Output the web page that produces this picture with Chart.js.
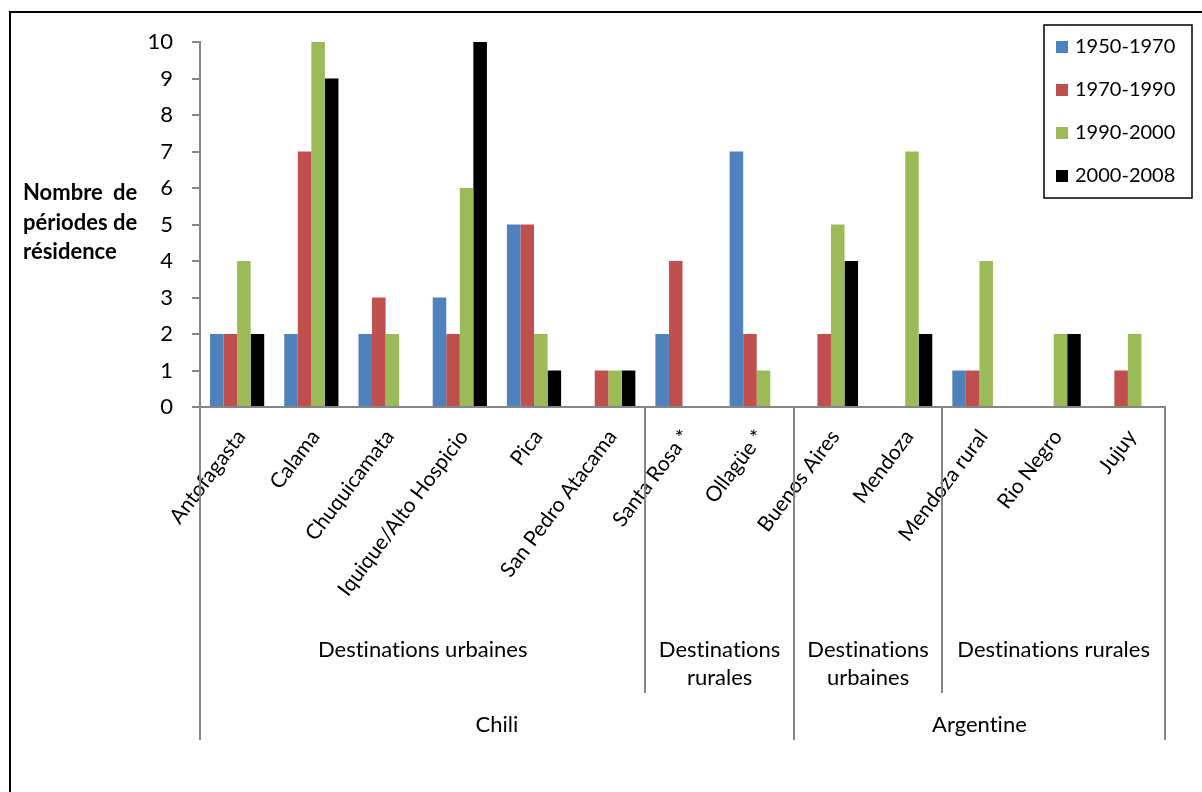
<!DOCTYPE html>
<html>
<head>
<meta charset="utf-8">
<script src="https://cdn.jsdelivr.net/npm/chart.js@4.4.1/dist/chart.umd.min.js"></script>
<style>
  html, body { margin: 0; padding: 0; background: #fff; }
  canvas { display: block; }
</style>
</head>
<body>
<canvas id="chart" width="1202" height="792"></canvas>
<script>
// ─── DONNÉES ───────────────────────────────────────────────────
const categories = ['Antofagasta', 'Calama', 'Chuquicamata', 'Iquique/Alto Hospicio', 'Pica',
    'San Pedro Atacama', 'Santa Rosa *', 'Ollagüe *', 'Buenos Aires', 'Mendoza',
    'Mendoza rural', 'Rio Negro', 'Jujuy'];

const seriesLabels = ['1950-1970', '1970-1990', '1990-2000', '2000-2008'];
const seriesColors = ['#4F81BD', '#C0504D', '#9BBB59', '#000000'];

const p1950 = [2, 2, 2, 3, 5, 0, 2, 7, 0, 0, 1, 0, 0];
const p1970 = [2, 7, 3, 2, 5, 1, 4, 2, 2, 0, 1, 0, 1];
const p1990 = [4, 10, 2, 6, 2, 1, 0, 1, 5, 7, 4, 2, 2];
const p2000 = [2, 9, 0, 10, 1, 1, 0, 0, 4, 2, 0, 2, 0];

const yTicks = [0, 1, 2, 3, 4, 5, 6, 7, 8, 9, 10];

// niveaux de regroupement sous l'axe (index de début / fin exclusif)
const groupLabels = [['Destinations urbaines'], ['Destinations', 'rurales'], ['Destinations', 'urbaines'], ['Destinations rurales']];
const groupStarts = [0, 6, 8, 10];
const groupEnds = [6, 8, 10, 13];

const countryLabels = ['Chili', 'Argentine'];
const countryStarts = [0, 8];
const countryEnds = [8, 13];

const yTitle = [['Nombre', 'de'], ['périodes de'], ['résidence']];

const FONT = 'Lato, "Open Sans", sans-serif';
const AXIS_GREY = '#868686';

// ─── PLUGIN : cadre, titre Y, légende, catégories groupées ─────
const decorPlugin = {
    id: 'decor',
    afterDraw(chart) {
        const ctx = chart.ctx;
        const x = chart.scales.x;
        ctx.save();
        ctx.letterSpacing = '0.01px'; // pas de ligature "ti"

        // cadre extérieur
        ctx.strokeStyle = '#000';
        ctx.lineWidth = 2;
        ctx.strokeRect(10, 12, 1200, 800);

        // titre de l'axe Y (justifié)
        ctx.fillStyle = '#000';
        ctx.font = 'bold 22px ' + FONT;
        ctx.textBaseline = 'middle';
        const titleW = ctx.measureText('périodes de').width;
        yTitle.forEach((parts, i) => {
            const y = 193 + i * 29.5;
            ctx.textAlign = 'left';
            ctx.fillText(parts[0], 23, y);
            if (parts.length > 1) {
                ctx.textAlign = 'right';
                ctx.fillText(parts[1], 23 + titleW, y);
            }
        });

        // séparateurs de groupes
        const edge = i => {
            if (i <= 0) return x.left;
            if (i >= categories.length) return x.right;
            return (x.getPixelForValue(i - 1) + x.getPixelForValue(i)) / 2;
        };
        const axisY = x.top;
        ctx.strokeStyle = AXIS_GREY;
        ctx.lineWidth = 2;
        const vline = (px, y2) => {
            ctx.beginPath();
            ctx.moveTo(Math.round(px), axisY);
            ctx.lineTo(Math.round(px), y2);
            ctx.stroke();
        };
        const countryEdges = new Set();
        countryStarts.forEach((s, i) => { countryEdges.add(s); countryEdges.add(countryEnds[i]); });
        countryEdges.forEach(i => vline(edge(i), 740));
        groupStarts.forEach((s, i) => {
            [s, groupEnds[i]].forEach(e => { if (!countryEdges.has(e)) vline(edge(e), 693); });
        });

        // libellés des groupes
        ctx.fillStyle = '#000';
        ctx.font = '22px ' + FONT;
        ctx.textAlign = 'center';
        groupLabels.forEach((lines, i) => {
            const cx = (edge(groupStarts[i]) + edge(groupEnds[i])) / 2;
            lines.forEach((t, j) => ctx.fillText(t, cx, 650 + j * 28));
        });
        countryLabels.forEach((t, i) => {
            const cx = (edge(countryStarts[i]) + edge(countryEnds[i])) / 2;
            ctx.fillText(t, cx, 725);
        });

        // légende
        ctx.strokeStyle = '#000';
        ctx.lineWidth = 1.5;
        ctx.strokeRect(1044, 25, 148, 173);
        ctx.font = '20px ' + FONT;
        ctx.textAlign = 'left';
        chart.data.datasets.forEach((ds, i) => {
            const cy = 47 + i * 43;
            ctx.fillStyle = ds.backgroundColor;
            ctx.fillRect(1056, cy - 6, 12, 12);
            ctx.fillStyle = '#000';
            ctx.fillText(ds.label, 1075, cy);
        });

        ctx.restore();
    }
};

// ─── GRAPHIQUE ─────────────────────────────────────────────────
const seriesData = [p1950, p1970, p1990, p2000];

new Chart(document.getElementById('chart').getContext('2d'), {
    type: 'bar',
    data: {
        labels: categories,
        datasets: seriesData.map((d, i) => ({
            label: seriesLabels[i],
            data: d,
            backgroundColor: seriesColors[i],
            borderWidth: 0,
            barPercentage: 1,
            categoryPercentage: 0.73
        }))
    },
    options: {
        responsive: false,
        animation: false,
        layout: { padding: { left: 0, top: 42, right: 37, bottom: 0 } },
        plugins: { legend: { display: false }, tooltip: { enabled: false } },
        scales: {
            x: {
                grid: { display: false },
                border: { display: true, color: AXIS_GREY, width: 2 },
                ticks: {
                    color: '#000',
                    font: { family: FONT, size: 21 },
                    minRotation: 53,
                    maxRotation: 53,
                    autoSkip: false,
                    padding: 10,
                    labelOffset: 4
                },
                afterFit(scale) { scale.height = 792 - 407; }
            },
            y: {
                min: 0,
                max: 10,
                afterBuildTicks(scale) { scale.ticks = yTicks.map(v => ({ value: v })); },
                grid: { display: true, drawOnChartArea: false, drawTicks: true, tickLength: 8, color: AXIS_GREY, lineWidth: 2 },
                border: { display: true, color: AXIS_GREY, width: 2 },
                ticks: {
                    color: '#000',
                    font: { family: FONT, size: 22 },
                    padding: 19
                },
                afterFit(scale) { scale.width = 200; }
            }
        }
    },
    plugins: [decorPlugin]
});
</script>
</body>
</html>
